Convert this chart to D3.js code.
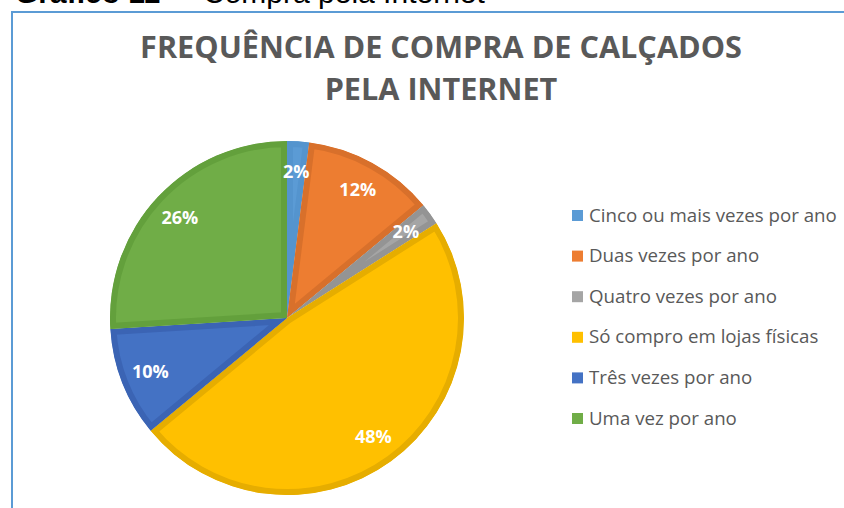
<!DOCTYPE html>
<html>
<head>
<meta charset="utf-8">
<script src="https://cdn.jsdelivr.net/npm/d3@7"></script>
<style>
  body { margin: 0; background: #fff; }
  svg { display: block; }
</style>
</head>
<body>
<svg width="844" height="508"></svg>
<script>
// data, clockwise from 12 o'clock
var categories = ["Cinco ou mais vezes por ano", "Duas vezes por ano", "Quatro vezes por ano",
                  "Só compro em lojas físicas", "Três vezes por ano", "Uma vez por ano"];
var values = [2, 12, 2, 48, 10, 26];
var fills = ["#5B9BD5", "#ED7D31", "#A5A5A5", "#FFC000", "#4472C4", "#70AD47"];
var borders = ["#5494CE", "#D8702B", "#949494", "#E6AD00", "#3B64B4", "#63A03C"];
var titleLines = ["FREQUÊNCIA DE COMPRA DE CALÇADOS", "PELA INTERNET"];

var svg = d3.select("svg");

// caption above the chart box, mostly cut off by the crop
var cap = svg.append("text")
    .attr("x", 15).attr("y", 3)
    .style("font-family", "Liberation Sans, Arial, sans-serif")
    .style("font-size", "30px")
    .attr("fill", "#000");
cap.append("tspan").style("font-weight", "bold").text("Gráfico 11");
cap.append("tspan").attr("x", 178).text("– Compra pela Internet");

// chart box border (top and left visible)
svg.append("path")
    .attr("d", "M12,508 L12,12 L844,12")
    .attr("fill", "none")
    .attr("stroke", "#5B9BD5")
    .attr("stroke-width", 2);

// fit a text node to a target width by adjusting font size
function fit(sel, w) {
  var cur = parseFloat(sel.style("font-size"));
  var len = sel.node().getComputedTextLength();
  sel.style("font-size", (cur * w / len) + "px");
}

// title
var t1 = svg.append("text")
    .attr("x", 441).attr("y", 58)
    .attr("text-anchor", "middle")
    .attr("fill", "#595959")
    .style("font-family", "Open Sans, sans-serif")
    .style("font-weight", "bold")
    .style("font-size", "28px")
    .text(titleLines[0]);
fit(t1, 602);
svg.append("text")
    .attr("x", 441).attr("y", 100)
    .attr("text-anchor", "middle")
    .attr("fill", "#595959")
    .style("font-family", "Open Sans, sans-serif")
    .style("font-weight", "bold")
    .style("font-size", t1.style("font-size"))
    .text(titleLines[1]);

// pie
var cx = 287, cy = 318, R = 177;
var pie = d3.pie().sort(null).value(function(d) { return d; });
var arc = d3.arc().innerRadius(0).outerRadius(R);
var labelArc = d3.arc().innerRadius(R * 0.83).outerRadius(R * 0.83);
var arcs = pie(values);

var g = svg.append("g").attr("transform", "translate(" + cx + "," + cy + ")");
var defs = svg.append("defs");

defs.selectAll("clipPath")
    .data(arcs)
    .enter().append("clipPath")
    .attr("id", function(d, i) { return "clip" + i; })
  .append("path")
    .attr("d", arc);

g.selectAll("path.slice")
    .data(arcs)
    .enter().append("path")
    .attr("class", "slice")
    .attr("d", arc)
    .attr("fill", function(d, i) { return fills[i]; })
    .attr("stroke", function(d, i) { return borders[i]; })
    .attr("stroke-width", 12)
    .attr("stroke-linejoin", "miter")
    .attr("clip-path", function(d, i) { return "url(#clip" + i + ")"; });

g.selectAll("text.lbl")
    .data(arcs)
    .enter().append("text")
    .attr("class", "lbl")
    .attr("transform", function(d) { return "translate(" + labelArc.centroid(d) + ")"; })
    .attr("text-anchor", "middle")
    .attr("dy", "0.35em")
    .attr("fill", "#fff")
    .style("font-family", "Open Sans, sans-serif")
    .style("font-weight", "bold")
    .style("font-size", "18px")
    .text(function(d) { return d.data + "%"; });

// legend
var y = d3.scalePoint().domain(categories).range([215, 418]);
var leg = svg.append("g").selectAll("g")
    .data(categories)
    .enter().append("g")
    .attr("transform", function(d) { return "translate(572," + y(d) + ")"; });
leg.append("rect")
    .attr("x", 0).attr("y", -5)
    .attr("width", 11).attr("height", 11)
    .attr("fill", function(d, i) { return fills[i]; });
var legText = leg.append("text")
    .attr("x", 17).attr("dy", "0.35em")
    .attr("fill", "#595959")
    .style("font-family", "Open Sans, sans-serif")
    .style("font-size", "16px")
    .text(function(d) { return d; });
fit(d3.select(legText.nodes()[0]), 248);
legText.style("font-size", d3.select(legText.nodes()[0]).style("font-size"));
</script>
</body>
</html>
